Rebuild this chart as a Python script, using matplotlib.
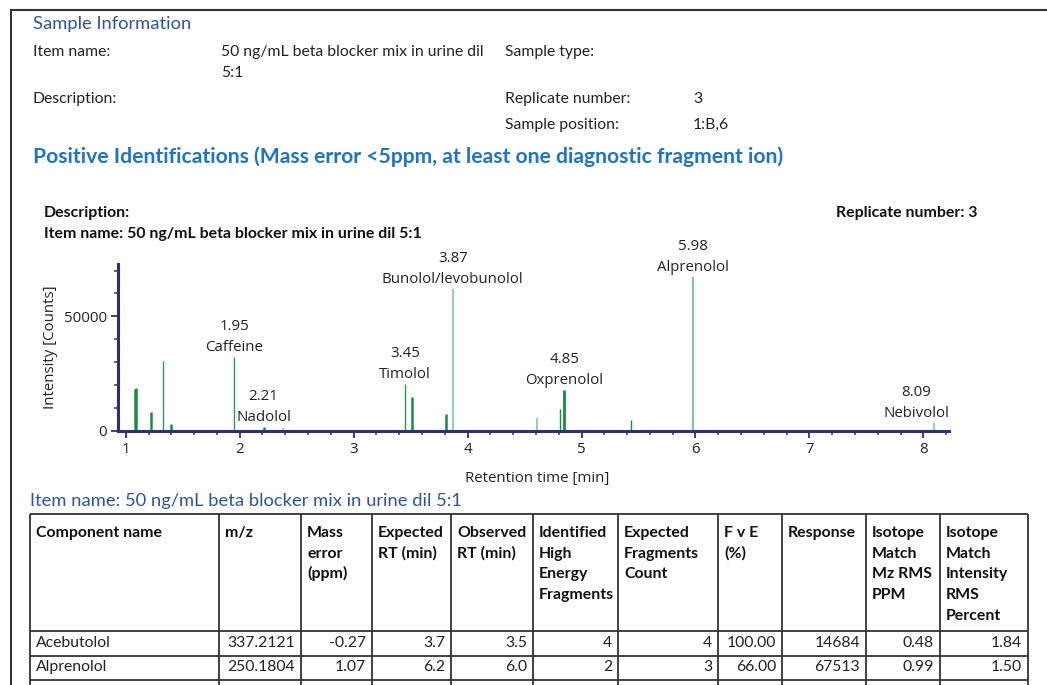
import matplotlib.pyplot as plt
from matplotlib.ticker import MultipleLocator

W, H = 1047, 685

# chromatogram peaks: retention time [min] and intensity [counts]
peak_rt = [1.08, 1.09, 1.22, 1.33, 1.40, 1.95, 2.21, 2.38, 3.45, 3.51,
           3.81, 3.87, 4.61, 4.81, 4.85, 5.43, 5.98, 8.09]
peak_height = [18000, 18800, 7900, 30300, 2900, 32000, 1600, 1200, 20300, 14500,
               7400, 61800, 5400, 9500, 17900, 4500, 67400, 3400]

# identified components labelled on the chromatogram
label_rt = [1.95, 2.21, 3.45, 3.87, 4.85, 5.98, 8.09]
label_name = ["Caffeine", "Nadolol", "Timolol", "Bunolol/levobunolol",
              "Oxprenolol", "Alprenolol", "Nebivolol"]

# results table
table_header = ["Component name", "m/z", "Mass\nerror\n(ppm)", "Expected\nRT (min)",
                "Observed\nRT (min)", "Identified\nHigh\nEnergy\nFragments",
                "Expected\nFragments\nCount", "F v E\n(%)", "Response",
                "Isotope\nMatch\nMz RMS\nPPM", "Isotope\nMatch\nIntensity\nRMS\nPercent"]
table_rows = [
    ["Acebutolol", "337.2121", "-0.27", "3.7", "3.5", "4", "4", "100.00", "14684", "0.48", "1.84"],
    ["Alprenolol", "250.1804", "1.07", "6.2", "6.0", "2", "3", "66.00", "67513", "0.99", "1.50"],
]

item_name = "50 ng/mL beta blocker mix in urine dil 5:1"

# line styles for the peaks
dark, mid, light = "#1d8a42", "#2b9a4e", "#80c8a2"
peak_color = [dark, dark, dark, mid, dark, mid, dark, light, mid, dark,
              dark, light, light, dark, dark, dark, light, light]
peak_width = [1.8, 1.8, 1.8, 1.0, 1.8, 1.0, 1.8, 1.2, 1.0, 1.8,
              1.8, 1.2, 1.2, 1.0, 2.0, 1.0, 1.6, 1.2]

navy = "#2c2f7e"
blue_dark = "#2f5597"
blue_bright = "#1f74c4"
text_font = "Lato"
chart_font = "Open Sans"
body = 11.3
chart_size = 10.8

fig = plt.figure(figsize=(W / 100, H / 100), dpi=100)

# page layer in pixel units
page = fig.add_axes([0, 0, 1, 1])
page.set_xlim(0, W)
page.set_ylim(H, 0)
page.axis("off")

page.plot([11, 11], [10, H], color="#333333", lw=1.5)
page.plot([11, W], [10, 10], color="#333333", lw=1.5)


def txt(x, y, s, size=body, weight="normal", color="#222222", ha="left", family=text_font, **kw):
    page.text(x, y, s, fontsize=size, fontweight=weight, color=color, ha=ha,
              va="baseline", family=family, **kw)


txt(33, 29, "Sample Information", size=13.2, color=blue_dark)
txt(33, 56, "Item name:")
txt(221, 56, "50 ng/mL beta blocker mix in urine dil")
txt(221, 77, "5:1")
txt(505, 56, "Sample type:")
txt(33, 103, "Description:")
txt(505, 103, "Replicate number:")
txt(693, 103, "3")
txt(505, 129, "Sample position:")
txt(693, 129, "1:B,6")
txt(33, 163, "Positive Identifications (Mass error <5ppm, at least one diagnostic fragment ion)",
    size=15.2, weight="bold", color=blue_bright)

txt(44, 217, "Description:", size=11.4, weight="bold", color="#111111")
txt(44, 238, "Item name: " + item_name, size=11.4, weight="bold", color="#111111")
txt(977, 217, "Replicate number: 3", size=11.4, weight="bold", color="#111111", ha="right")

txt(537, 482, "Retention time [min]", size=chart_size, ha="center", family=chart_font)
page.text(51, 347, "Intensity [Counts]", fontsize=chart_size, rotation=90, ha="center",
          va="center", family=chart_font, color="#222222")

# chromatogram
left, right, top, bottom = 118, 949, 264, 430.5
ax = fig.add_axes([left / W, 1 - bottom / H, (right - left) / W, (bottom - top) / H])
ax.patch.set_alpha(0)
ax.set_xlim(0.932, 8.225)
ax.set_ylim(0, 72900)

ax.vlines(peak_rt, 0, peak_height, colors=peak_color, linewidths=peak_width, zorder=2)

for side in ["top", "right"]:
    ax.spines[side].set_visible(False)
for side in ["left", "bottom"]:
    ax.spines[side].set_color(navy)
    ax.spines[side].set_linewidth(2.2)
    ax.spines[side].set_zorder(3)

ax.set_xticks(range(1, 9))
ax.xaxis.set_minor_locator(MultipleLocator(0.2))
ax.set_yticks([0, 50000])
ax.yaxis.set_minor_locator(MultipleLocator(10000))
ax.tick_params(which="major", length=5, width=1.3, color=navy, labelsize=chart_size,
               labelcolor="#222222", pad=3)
ax.tick_params(which="minor", length=3, width=1.1, color=navy)
for lab in ax.get_xticklabels() + ax.get_yticklabels():
    lab.set_family(chart_font)

pairs = []
for rt, name in zip(label_rt, label_name):
    h = peak_height[peak_rt.index(rt)]
    a = ax.annotate(name, (rt, h), xytext=(0, 6), textcoords="offset pixels",
                    ha="center", va="baseline", fontsize=chart_size, family=chart_font,
                    color="#222222", annotation_clip=False)
    b = ax.annotate(f"{rt:.2f}", (rt, h), xytext=(0, 27), textcoords="offset pixels",
                    ha="center", va="baseline", fontsize=chart_size, family=chart_font,
                    color="#222222", annotation_clip=False)
    pairs.append((a, b))

# keep labels inside the plot area
fig.canvas.draw()
renderer = fig.canvas.get_renderer()
ax_right = ax.get_window_extent(renderer).x1
for a, b in pairs:
    over = a.get_window_extent(renderer).x1 - ax_right
    if over > 0:
        a.xyann = (-over, 6)
        b.xyann = (-over, 27)

# results table
txt(30, 506, "Item name: " + item_name, size=13.2, color=blue_dark)

col_x = [30, 219, 301, 372, 451, 533, 618, 718, 782, 866, 940, 1028]
row_y = [514, 631, 656, 680]
line_c = "#333333"
page.hlines(row_y, col_x[0], col_x[-1], colors=line_c, lw=1.3)
page.vlines(col_x, row_y[0], H, colors=line_c, lw=1.3)

for i, head in enumerate(table_header):
    for k, line in enumerate(head.split("\n")):
        txt(col_x[i] + 6, 537 + k * 20.7, line, size=11.4, weight="bold", color="#111111")

for r, row in enumerate(table_rows):
    y = row_y[r + 2] - 9
    for i, val in enumerate(row):
        if i == 0:
            txt(col_x[0] + 6, y, val)
        else:
            txt(col_x[i + 1] - 6, y, val, ha="right")

fig.savefig("out.png", dpi=100)
